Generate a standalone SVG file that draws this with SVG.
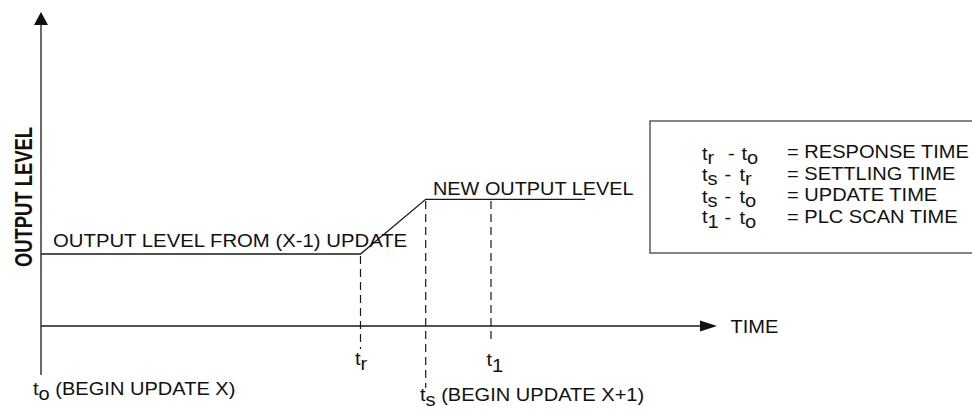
<svg xmlns="http://www.w3.org/2000/svg" width="972" height="409" viewBox="0 0 972 409">
<style>
.ln{stroke:#1a1a1a;stroke-width:1.3;fill:none}
.dash{stroke:#1a1a1a;stroke-width:1.2;fill:none;stroke-dasharray:8,5}
.tx{font-family:"Liberation Sans",Arial,sans-serif;font-size:18px;fill:#111}
.bold{font-weight:bold}
</style>
<rect width="972" height="409" fill="#fff"/>
<g id="connectors">
  <line class="ln" x1="41" y1="24" x2="41" y2="375"/>
  <polygon points="41,12 34,25 48,25" fill="#111"/>
  <line class="ln" x1="41" y1="326" x2="702" y2="326"/>
  <polygon points="717,326 700,320.5 700,331.5" fill="#111"/>
  <polyline class="ln" points="41,254 360.5,254 425.7,199.3 585,199.3"/>
  <line class="dash" x1="360.5" y1="256" x2="360.5" y2="349"/>
  <line class="dash" x1="425.7" y1="201" x2="425.7" y2="388"/>
  <line class="dash" x1="491" y1="201" x2="491" y2="342"/>
</g>
<g id="axis-label">
  <text class="tx bold" transform="translate(32,267) scale(1.28,1) rotate(-90)" font-size="18.5" textLength="140" lengthAdjust="spacingAndGlyphs">OUTPUT LEVEL</text>
</g>
<g id="time-label">
  <text class="tx" transform="translate(730.5,333.3) scale(1.115,1)">TIME</text>
</g>
<g id="old-level">
  <text class="tx" transform="translate(53,246.7) scale(1.13,1)">OUTPUT LEVEL FROM (X-1) UPDATE</text>
</g>
<g id="new-level">
  <text class="tx" transform="translate(433,195) scale(1.105,1)">NEW OUTPUT LEVEL</text>
</g>
<g id="t-o">
  <text class="tx" transform="translate(33,395) scale(1.115,1)">t<tspan dy="5">o</tspan><tspan dy="-5"> (BEGIN UPDATE X)</tspan></text>
</g>
<g id="t-r">
  <text class="tx" transform="translate(355,365) scale(1.115,1)">t<tspan dy="5">r</tspan></text>
</g>
<g id="t-1">
  <text class="tx" transform="translate(486.5,366) scale(1.115,1)">t<tspan dy="5.5">1</tspan></text>
</g>
<g id="t-s">
  <text class="tx" transform="translate(420,401) scale(1.115,1)">t<tspan dy="5">s</tspan><tspan dy="-5"> (BEGIN UPDATE X+1)</tspan></text>
</g>
<g id="legend">
  <rect x="650" y="121" width="340" height="132" fill="none" stroke="#333" stroke-width="1.2"/>
  <text class="tx" transform="translate(702,159.5) scale(1.115,1)">t<tspan dy="4">r</tspan></text>
  <text class="tx" transform="translate(728,159.5) scale(1.115,1)">-</text>
  <text class="tx" transform="translate(741.5,159.5) scale(1.115,1)">t<tspan dy="4">o</tspan></text>
  <text class="tx" transform="translate(787,158) scale(1.115,1)">= RESPONSE TIME</text>

  <text class="tx" transform="translate(702,181) scale(1.115,1)">t<tspan dy="4">s</tspan></text>
  <text class="tx" transform="translate(724.5,181) scale(1.115,1)">-</text>
  <text class="tx" transform="translate(739.5,181) scale(1.115,1)">t<tspan dy="4">r</tspan></text>
  <text class="tx" transform="translate(787,179.5) scale(1.115,1)">= SETTLING TIME</text>

  <text class="tx" transform="translate(702,202.5) scale(1.115,1)">t<tspan dy="4">s</tspan></text>
  <text class="tx" transform="translate(724.5,202.5) scale(1.115,1)">-</text>
  <text class="tx" transform="translate(739.5,202.5) scale(1.115,1)">t<tspan dy="4">o</tspan></text>
  <text class="tx" transform="translate(787,201) scale(1.115,1)">= UPDATE TIME</text>

  <text class="tx" transform="translate(702,223) scale(1.115,1)">t<tspan dy="5">1</tspan></text>
  <text class="tx" transform="translate(724.5,224) scale(1.115,1)">-</text>
  <text class="tx" transform="translate(739.5,224) scale(1.115,1)">t<tspan dy="4">o</tspan></text>
  <text class="tx" transform="translate(787,222.5) scale(1.115,1)">= PLC SCAN TIME</text>
</g>
</svg>
